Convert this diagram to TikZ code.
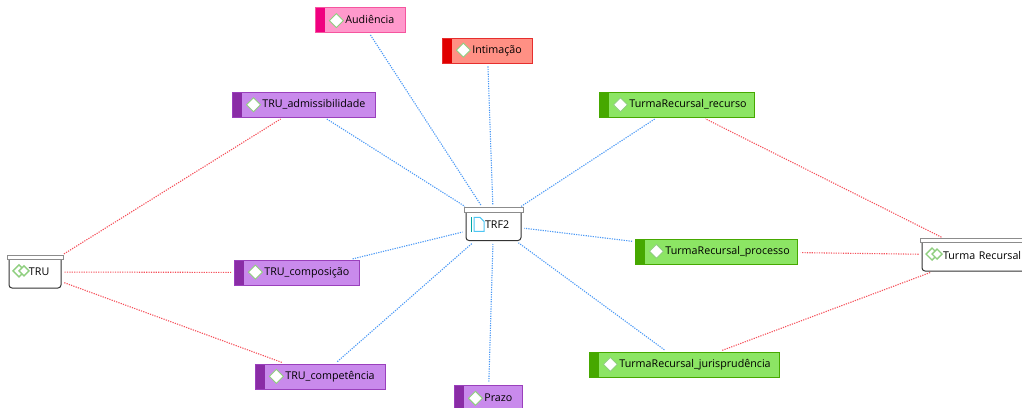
\documentclass[tikz,border=0pt]{standalone}
\usepackage{fontspec}
\setmainfont{Open Sans}
\definecolor{purplefill}{HTML}{C98AEC}
\definecolor{purplebar}{HTML}{8A2CA6}
\definecolor{purpleline}{HTML}{9A40BC}
\definecolor{greenfill}{HTML}{8CE564}
\definecolor{greenbar}{HTML}{46A800}
\definecolor{pinkfill}{HTML}{FF99CC}
\definecolor{pinkbar}{HTML}{F00080}
\definecolor{pinkline}{HTML}{F5559F}
\definecolor{redfill}{HTML}{FF9084}
\definecolor{redbar}{HTML}{E00000}
\definecolor{redborder}{HTML}{E62E2E}
\definecolor{linkblue}{HTML}{4A98F5}
\definecolor{linkred}{HTML}{F5505A}
\definecolor{icongreen}{HTML}{8FCF7F}
\tikzset{shorten > = 3pt,shorten < = 3pt}
\tikzset{
	taskbox/.style n args={3}{draw=#3,fill=#1,line width=.8pt,anchor=west,minimum height=25pt,
		inner xsep=0pt,inner ysep=0pt,align=left,font=\fontsize{10.7}{12}\selectfont,text=black,
		execute at begin node={\hspace*{30pt}},
		path picture={
			\fill[#2,shift={(path picture bounding box.west)}] (0,-18) rectangle (10,14);
			\draw[fill=white,draw=icongreen,line width=.9pt,shift={(path picture bounding box.west)}]
				(14,-3) -- (21,-10) -- (28,-3) -- (21,4) -- cycle;
		}},
	wd/.style={minimum width=#1,text width=#1},
	tru/.style={taskbox={purplefill}{purplebar}{purpleline}},
	turma/.style={taskbox={greenfill}{greenbar}{greenbar}},
	audi/.style={taskbox={pinkfill}{pinkbar}{pinkline}},
	inti/.style={taskbox={redfill}{redbar}{redborder}},
	lidbox/.style={draw=black!45,fill=white,line width=.9pt,inner sep=0pt,minimum height=4.5pt,minimum width=#1},
	boxcont/.style n args={3}{draw=black!80,fill=white,line width=1pt,rounded corners=3pt,anchor=west,minimum height=#3,
		inner xsep=0pt,inner ysep=0pt,align=left,font=\fontsize{10.7}{12}\selectfont,text=black,
		minimum width=#1,text width=#1,
		execute at begin node={\hspace*{#2}},
		label={[lidbox=#1+4pt,anchor=north,label distance=0pt,yshift=.6pt]north:{}}},
	diamicon/.style={path picture={
		\draw[icongreen,line width=1.4pt,sharp corners,shift={(path picture bounding box.west)}]
			(4,-5) -- (10,-11) -- (16,-5) -- (10,1) -- cycle;
		\draw[icongreen,line width=1.4pt,sharp corners,fill=white,shift={(path picture bounding box.west)}]
			(10,-5) -- (15,-10) -- (20,-5) -- (15,0) -- cycle;
	}},
	bookicon/.style={path picture={
		\draw[teal!70!cyan,line width=1pt,sharp corners,shift={(path picture bounding box.west)}]
			(9,-11) -- (5,-11) -- (5,3) -- (9,3);
		\draw[cyan!70!white,line width=1pt,sharp corners,fill=white,shift={(path picture bounding box.west)}]
			(8,-11) -- (14,-11) -- (18,-7) -- (18,3) -- (8,3) -- cycle;
	}},
	blueline/.style={linkblue,dash pattern=on 1.2pt off 1.2pt,line width=1.1pt},
	redline/.style={linkred,dash pattern=on 1.2pt off 1.2pt,line width=1.1pt},
}

\begin{document}
\begin{tikzpicture}[x=1pt,y=-1pt]
	\useasboundingbox (0,0) rectangle (1022,407);
	\clip (0,0) rectangle (1022,407);

	\node[boxcont={55pt}{19pt}{32pt},bookicon](trf2) at (465.5,224.5){TRF2};
	\node[boxcont={52pt}{20pt}{32pt},diamicon](trugroup) at (8.5,272){TRU};
	\node[boxcont={110pt}{21pt}{32pt},diamicon](turmagroup) at (921.5,255){Turma Recursal};

	\node[audi,wd=90pt](audiencia) at (315,19.5){Audiência};
	\node[inti,wd=90pt](intimacao) at (442,50.5){Intimação};
	\node[tru,wd=143pt](truadm) at (232,104.5){TRU\_admissibilidade};
	\node[tru,wd=125pt](trucomp) at (234,272.5){TRU\_composição};
	\node[tru,wd=130pt](trucompet) at (255,376.5){TRU\_competência};
	\node[tru,wd=68pt](prazo) at (454,397.5){Prazo};
	\node[turma,wd=155pt](turmarec) at (599,104.5){TurmaRecursal\_recurso};
	\node[turma,wd=162pt](turmaproc) at (635,251.5){TurmaRecursal\_processo};
	\node[turma,wd=190pt](turmajur) at (589,364.5){TurmaRecursal\_jurisprudência};

	\draw[blueline](audiencia) -- (trf2);
	\draw[blueline](intimacao) -- (trf2);
	\draw[blueline](truadm) -- (trf2);
	\draw[blueline](trucomp) -- (trf2);
	\draw[blueline](trucompet) -- (trf2);
	\draw[blueline](prazo) -- (trf2);
	\draw[blueline](turmarec) -- (trf2);
	\draw[blueline](turmaproc) -- (trf2);
	\draw[blueline](turmajur) -- (trf2);

	\draw[redline](trugroup) -- (truadm);
	\draw[redline](trugroup) -- (trucomp);
	\draw[redline](trugroup) -- (trucompet);
	\draw[redline](turmagroup) -- (turmarec);
	\draw[redline](turmagroup) -- (turmaproc);
	\draw[redline](turmagroup) -- (turmajur);

\end{tikzpicture}
\end{document}
